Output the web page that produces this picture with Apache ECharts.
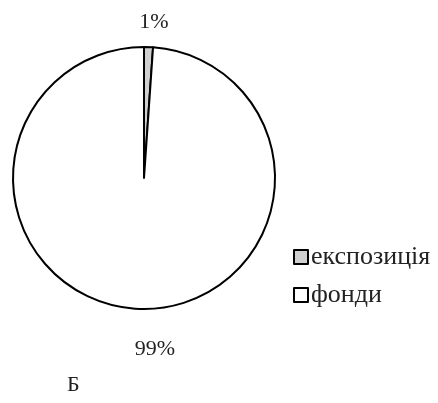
<!DOCTYPE html>
<html>
<head>
<meta charset="utf-8">
<script src="https://cdn.jsdelivr.net/npm/echarts@6/dist/echarts.min.js"></script>
<style>
  html, body { margin: 0; padding: 0; background: #fff; }
  #pie { width: 438px; height: 403px; }
</style>
</head>
<body>
<div id="pie"></div>
<script>
// частки: експозиція / фонди
const names = ['експозиція', 'фонди'];
const shares = [1.1, 98.9];
const colors = ['#d0d0d0', '#ffffff'];

let myChart = echarts.init(document.getElementById('pie'));

// де стоять підписи відсотків
const labelPos = [
    {x: 154, y: 22},
    {x: 155, y: 349}
];

const option = {
    animation: false,
    legend: {
        orient: 'vertical',
        left: 288,
        top: 239,
        itemWidth: 14,
        itemHeight: 14,
        itemGap: 12,
        icon: 'rect',
        textStyle: {fontFamily: 'Liberation Serif', fontSize: 26, color: '#222', padding: [0, 0, 0, -2]},
        itemStyle: {borderColor: '#000', borderWidth: 2},
        data: names
    },
    graphic: [{
        type: 'text',
        left: 67,
        top: 374,
        style: {text: 'Б', font: '22px "Liberation Serif"', fill: '#222'}
    }],
    series: [{
        type: 'pie',
        center: [144, 178],
        radius: 131,
        startAngle: 90,
        clockwise: true,
        data: names.map((n, i) => ({
            name: n,
            value: shares[i],
            itemStyle: {color: colors[i]}
        })),
        itemStyle: {borderColor: '#000', borderWidth: 2},
        label: {
            show: true,
            position: 'outside',
            fontFamily: 'Liberation Serif',
            fontSize: 22,
            color: '#222',
            formatter: p => Math.round(p.percent) + '%'
        },
        labelLine: {show: false},
        labelLayout: p => ({
            x: labelPos[p.dataIndex].x,
            y: labelPos[p.dataIndex].y,
            align: 'center',
            verticalAlign: 'middle'
        }),
        emphasis: {disabled: true}
    }]
};
myChart.setOption(option);
</script>
</body>
</html>
